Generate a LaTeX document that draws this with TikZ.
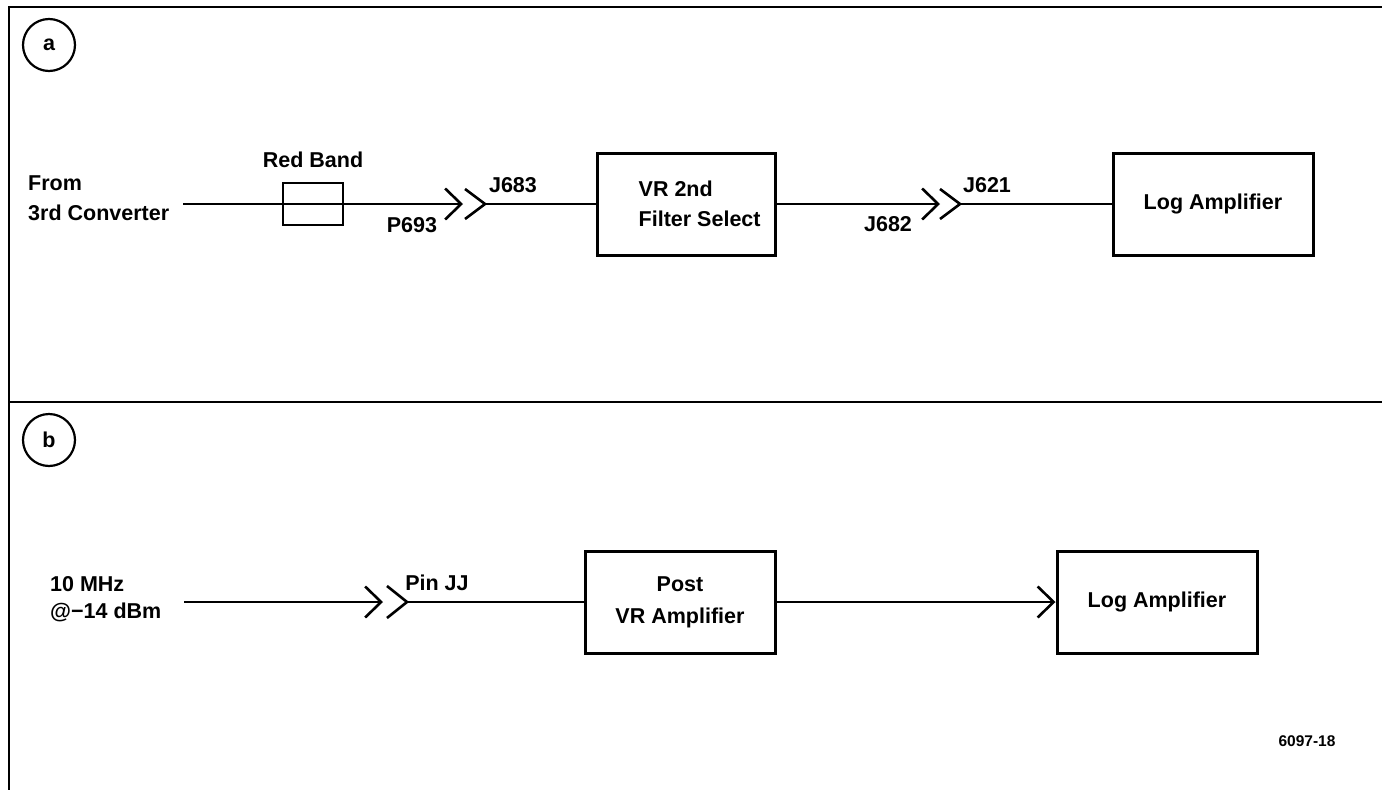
\documentclass[tikz,border=0pt]{standalone}
\usepackage{fontspec}
\setmainfont{Liberation Sans}
\usetikzlibrary{arrows.meta, positioning}

\begin{document}
\begin{tikzpicture}[
        x=1pt, y=-1pt,
        font=\fontsize{21.5}{30}\selectfont\bfseries,
        frame/.style={line width=2.8pt},
        tag/.style={circle, draw, line width=2.2pt, minimum size=52pt, inner sep=0pt},
        block/.style={rectangle, draw, line width=3pt, minimum width=200pt, minimum height=102pt},
        conn/.style={line width=2.6pt},
        plug/.style={conn, -{Straight Barb[length=16pt, width=31pt, line width=2.6pt]}},
        label/.style={inner sep=0pt, align=left}
    ]
    \useasboundingbox (0,0) rectangle (1382,790);

    % frame
    \draw[frame] (1382,7) -- (9,7) -- (9,790);
    \draw[frame] (9,402) -- (1382,402);

    % (a)
    \node[tag] (taga) at (49,45) {a};
    \node[label, anchor=west] (from) at (28,198) {From\\3rd Converter};
    \coordinate (ina) at (183,204);
    \coordinate (p693) at (463,204);
    \coordinate (j683) at (485,204);
    \coordinate (j682) at (940,204);
    \coordinate (j621) at (960,204);
    \draw[plug] (ina) -- (p693);
    \node[rectangle, draw, line width=2.8pt, minimum width=60pt, minimum height=42pt] (redband) at (313,204) {};
    \node[label] (redlbl) at (313,160) {Red Band};
    \node[block, minimum width=178pt] (vrsel) at (686,204) {};
    \node[label, right=43pt of vrsel.west] (vrtext) {VR 2nd\\Filter Select};
    \node[block] (loga) at (1213,204) {Log Amplifier};

    \draw[conn] (j683) ++(-20,-15) -- (j683) -- ++(-20,15);
    \draw[conn] (j683) -- (vrsel);
    \draw[plug] (vrsel) -- (j682);
    \draw[conn] (j621) ++(-20,-15) -- (j621) -- ++(-20,15);
    \draw[conn] (j621) -- (loga);

    \node[label] at (412,225) {P693};
    \node[label] at (513,185) {J683};
    \node[label] at (888,224) {J682};
    \node[label] at (987,185) {J621};

    % (b)
    \node[tag] (tagb) at (49,440) {b};
    \node[label, anchor=west, font=\fontsize{21.5}{27}\selectfont\bfseries] (src) at (50,599) {10 MHz\\@\textminus14 dBm};
    \coordinate (inb) at (184,602);
    \coordinate (pinp) at (383,602);
    \coordinate (pinjj) at (407,602);
    \draw[plug] (inb) -- (pinp);
    \node[block, minimum width=190pt, align=center, font=\fontsize{21.5}{32}\selectfont\bfseries] (post) at (680,602) {Post\\VR Amplifier};
    \node[block] (logb) at (1157,602) {Log Amplifier};
    \draw[conn] (pinjj) ++(-20,-16) -- (pinjj) -- ++(-20,16);
    \draw[conn] (pinjj) -- (post);
    \draw[plug] (post) -- (logb);
    \node[label] at (437,583) {Pin JJ};

    \node[label, font=\fontsize{15.5}{18}\selectfont\bfseries] (figno) at (1307,741) {6097-18};

\end{tikzpicture}
\end{document}
